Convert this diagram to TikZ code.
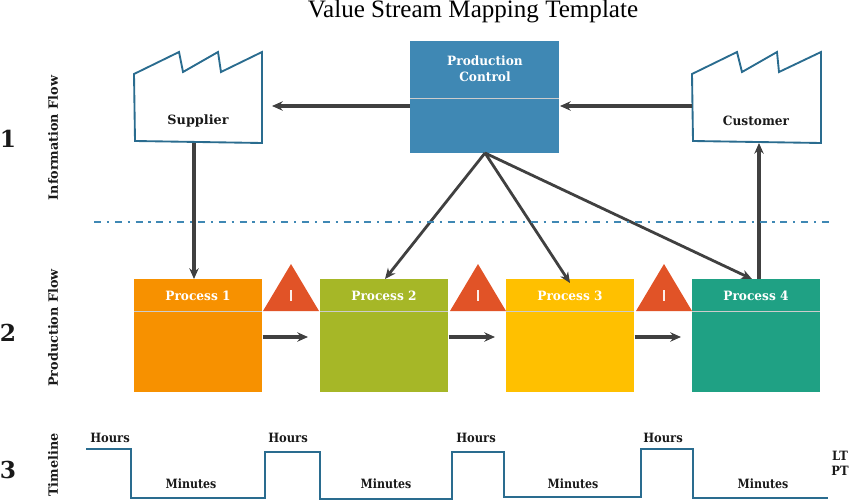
\documentclass[tikz,border=0pt]{standalone}
\usepackage{fontspec}
\setmainfont{DejaVu Serif}
\newfontfamily\titlefont{Liberation Serif}
\newfontfamily\midfont[FakeStretch=0.95]{DejaVu Serif}
\newfontfamily\nearfont[FakeStretch=0.90]{DejaVu Serif}
\newfontfamily\slimfont[FakeStretch=0.86]{DejaVu Serif}
\usetikzlibrary{arrows.meta}
\definecolor{pcblue}{HTML}{3F88B4}
\definecolor{porange}{HTML}{F79100}
\definecolor{pgreen}{HTML}{A6B727}
\definecolor{pyellow}{HTML}{FFC000}
\definecolor{pteal}{HTML}{1FA184}
\definecolor{warn}{HTML}{E15327}
\definecolor{outl}{HTML}{2A6C8F}
\definecolor{arrowc}{HTML}{404040}
\tikzset{
  x=0.75pt,y=-0.75pt,
  lab/.style={font=\fontsize{9.6pt}{11pt}\selectfont\bfseries,text=black!90,inner sep=0pt},
  midlab/.style={font=\midfont\fontsize{9.6pt}{11pt}\selectfont\bfseries,text=black!90,inner sep=0pt},
  hourlab/.style={font=\nearfont\fontsize{9.6pt}{11pt}\selectfont\bfseries,text=black!90,inner sep=0pt},
  minlab/.style={font=\slimfont\fontsize{9.6pt}{11pt}\selectfont\bfseries,text=black!90,inner sep=0pt},
  wlab/.style={font=\midfont\fontsize{9.6pt}{11pt}\selectfont\bfseries,text=white,inner sep=0pt,align=center},
  sidelab/.style={lab,rotate=90},
  numlab/.style={font=\fontsize{17.5pt}{19pt}\selectfont\bfseries,text=black!90,inner sep=0pt},
  procbox/.style={draw=none,fill=#1,minimum width=96pt,minimum height=84.75pt,inner sep=0pt,anchor=north west},
  factory/.style={draw=outl,line width=1.4pt,line join=miter,fill=white},
  flow/.style={draw=arrowc,line width=2.1pt,-{Stealth[length=8pt,width=7pt]}},
  flowstraight/.style={draw=arrowc,line width=2.3pt,-{Stealth[length=8pt,width=7pt]}},
  divider/.style={draw=white!80!black,line width=0.6pt},
  timeline/.style={draw=outl,line width=2.2pt,line join=miter},
  warntri/.style={fill=warn,draw=none},
}
\begin{document}
\begin{tikzpicture}
\useasboundingbox (0,0) rectangle (850,503);
\node[font=\titlefont\fontsize{18.8pt}{21pt}\selectfont,inner sep=0pt] (title) at (473,12) {Value Stream Mapping Template};

% Factories
\draw[factory] (134,74) -- (179,52) -- (183,72) -- (218,52) -- (221,72) -- (262,52) -- (262,143) -- (135,141) -- cycle;
\draw[factory] (692,74) -- (737,52) -- (742,72) -- (777,52) -- (779,72) -- (821,52) -- (821,143) -- (693,141) -- cycle;
\node[lab] (supplier) at (198,121) {Supplier};
\node[midlab] (customer) at (756,121) {Customer};
\coordinate (supE) at (272,106);
\coordinate (supS) at (194,143);
\coordinate (cusW) at (692,106);
\coordinate (cusS) at (759,143);

% Production control
\node[fill=pcblue,minimum width=111.75pt,minimum height=84pt,inner sep=0pt,anchor=north west] (pc) at (410,41) {};
\draw[divider] (410,98) -- (559,98);
\node[wlab] (pclab) at (485,69) {Production\\[1pt]Control};
\coordinate (pcW) at (410,106);
\coordinate (pcE) at (560,106);
\coordinate (pcS) at (485,153);

% Process boxes
\node[procbox=porange] (p1) at (134,279) {};
\node[procbox=pgreen] (p2) at (320,279) {};
\node[procbox=pyellow] (p3) at (506,279) {};
\node[procbox=pteal] (p4) at (692,279) {};
\foreach \n/\xa/\xb in {1/134/262,2/320/448,3/506/634,4/692/820}{
  \draw[divider] (\xa,311) -- (\xb,311);
  \node[wlab] (pl\n) at ({(\xa+\xb)/2},296) {Process \n};
}

% Warning triangles
\foreach \n/\c in {1/291,2/478,3/664}{
  \fill[warntri] (\c-28,311) -- (\c,264) -- (\c+28,311) -- cycle;
  \draw[white!90!warn,line width=0.9pt] (\c,290) -- (\c,301);
}

% Connectors
\draw[flowstraight] (pcW) -- (supE);
\draw[flowstraight] (cusW) -- (pcE);
\draw[flowstraight] (supS) -- (194,279);
\draw[flowstraight] (p4.north -| cusS) -- (cusS);
\coordinate (p2T) at (385,279);
\coordinate (p3T) at (570,283);
\coordinate (p4T) at (752,279);
\draw[flow] (pcS) -- (p2T);
\draw[flow] (pcS) -- (p3T);
\draw[flow] (pcS) -- (p4T);
\coordinate (a1) at (308,337);
\coordinate (a2) at (495,337);
\coordinate (a3) at (681,337);
\draw[flowstraight] (p1.east |- a1) -- (a1);
\draw[flowstraight] (p2.east |- a2) -- (a2);
\draw[flowstraight] (p3.east |- a3) -- (a3);

% Divider
\draw[draw=pcblue,line width=0.9pt,dash pattern=on 5.2pt off 4.4pt on 1.6pt off 4.4pt] (94,222) -- (830,222);

% Side labels
\node[sidelab] (s1) at (53,138) {Information Flow};
\node[sidelab] (s2) at (53,328) {Production Flow};
\node[sidelab] (s3) at (53,465) {Timeline};
\node[numlab] (n1) at (8,139) {1};
\node[numlab] (n2) at (8,333) {2};
\node[numlab] (n3) at (8,470) {3};

% Timeline
\draw[timeline] (86,449) -- (131,449) -- (131,498) -- (265,498) -- (265,452) -- (320,452) -- (320,499) -- (452,499) -- (452,452) -- (504,452) -- (504,497) -- (641,497) -- (641,449) -- (693,449) -- (693,498) -- (828,498);
\foreach \n/\c in {1/110,2/288,3/476,4/663}{\node[hourlab] (h\n) at (\c,438) {Hours};}
\foreach \n/\c in {1/191,2/386,3/573,4/763}{\node[minlab] (m\n) at (\c,484) {Minutes};}
\node[hourlab] (lt) at (840,456) {LT};
\node[hourlab] (pt) at (840,471) {PT};
\end{tikzpicture}
\end{document}
